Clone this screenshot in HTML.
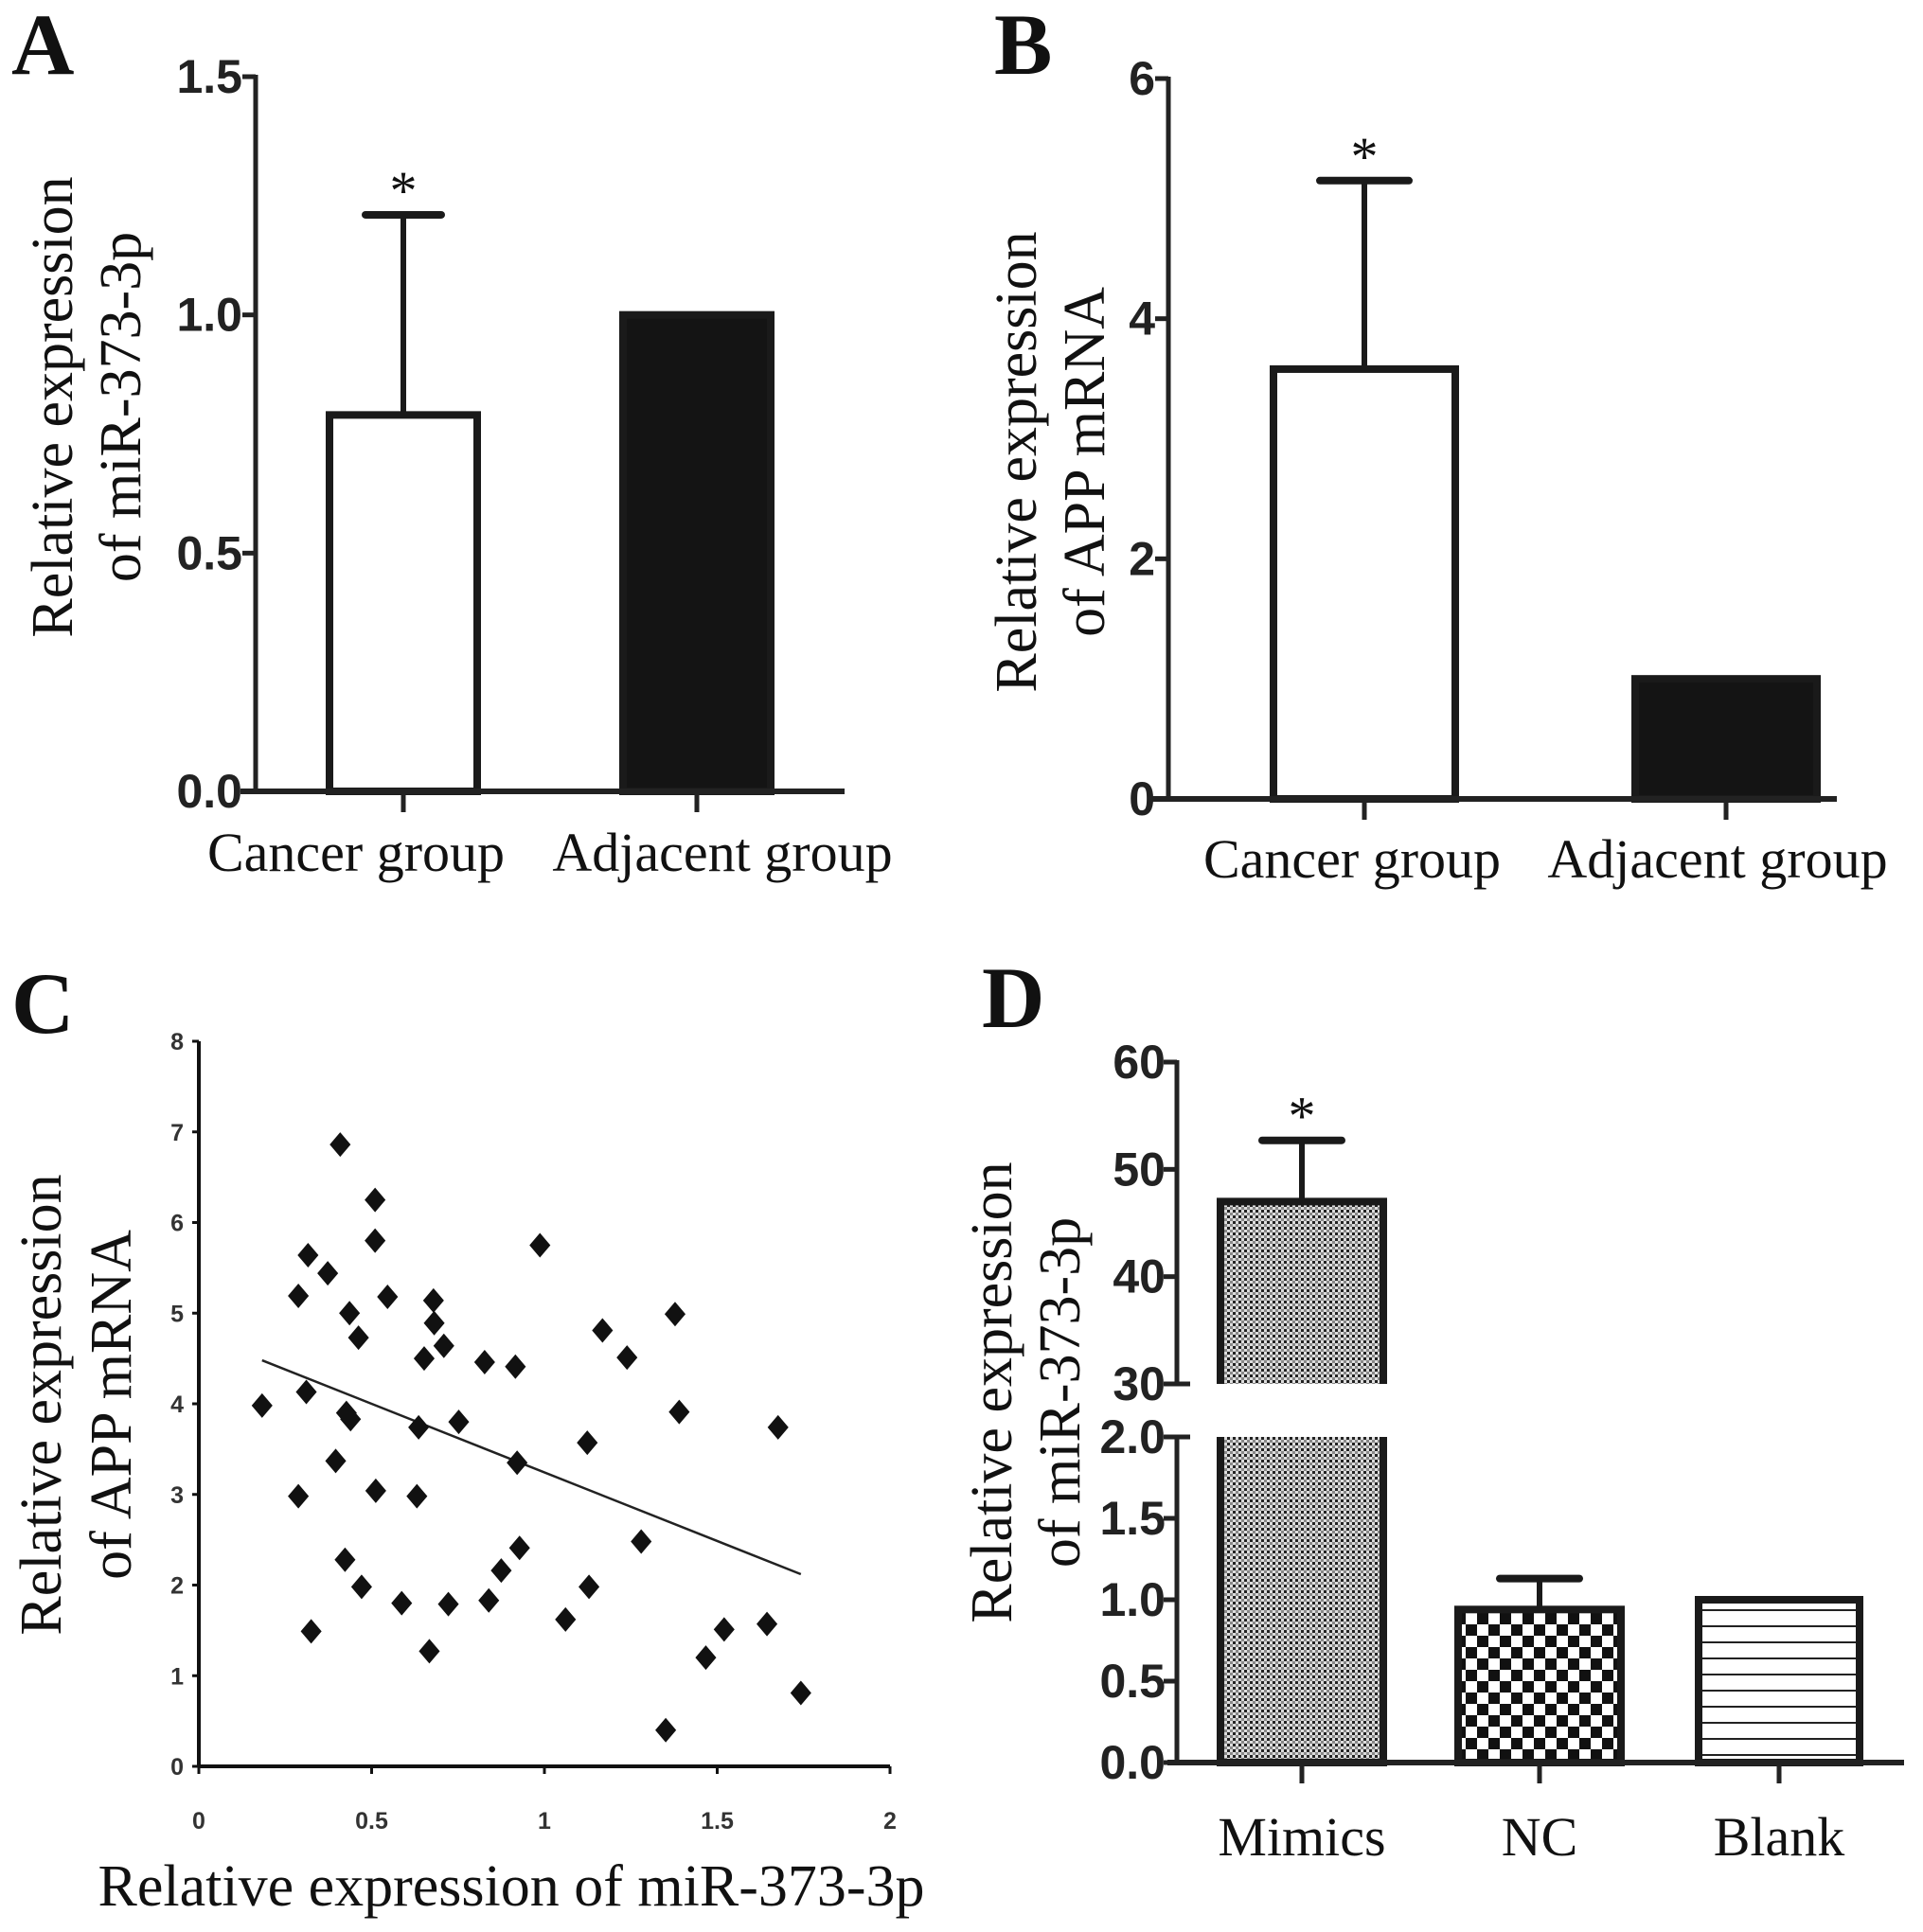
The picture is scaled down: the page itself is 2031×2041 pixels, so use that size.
<!DOCTYPE html>
<html><head><meta charset="utf-8"><style>
html,body{margin:0;padding:0;background:#fff}
svg{display:block}
.tk{font-family:"Liberation Sans Narrow","Liberation Sans",sans-serif;font-weight:bold;font-size:50px;fill:#222}
.tks{font-family:"Liberation Sans",sans-serif;font-weight:bold;font-size:25px;fill:#333}
.lab{font-family:"Liberation Serif",serif;font-size:58px;fill:#111}
.ttl{font-family:"Liberation Serif",serif;font-size:62px;fill:#111}
.pl{font-family:"Liberation Serif",serif;font-weight:bold;font-size:92px;fill:#111}
</style></head><body>
<svg id="fig" width="2031" height="2041" viewBox="0 0 2031 2041" xmlns="http://www.w3.org/2000/svg">
<defs>
<pattern id="dots" width="6" height="6" patternUnits="userSpaceOnUse"><rect width="6" height="6" fill="#ddd"/><rect x="0" y="0" width="3" height="3" fill="#222"/><rect x="3" y="3" width="3" height="3" fill="#888"/></pattern>
<pattern id="check" width="24" height="24" patternUnits="userSpaceOnUse"><rect width="24" height="24" fill="#fff"/><rect width="12" height="12" fill="#111"/><rect x="12" y="12" width="12" height="12" fill="#111"/></pattern>
<pattern id="hlines" width="10" height="17" patternUnits="userSpaceOnUse"><rect width="10" height="17" fill="#fff"/><rect y="0" width="10" height="2" fill="#222"/></pattern>
</defs>
</svg>
<script>
// Panel A data
const aCats=["Cancer group","Adjacent group"];
const aVals=[0.79,1.0];
const aErr=[1.21,null];
const aTicks=[0,0.5,1.0,1.5];
// Panel B data
const bCats=["Cancer group","Adjacent group"];
const bVals=[3.58,1.0];
const bErr=[5.15,null];
const bTicks=[0,2,4,6];
// Panel C data
const cX=[0.183,0.288,0.288,0.316,0.311,0.325,0.373,0.396,0.409,0.436,0.427,0.439,0.423,0.462,0.471,0.510,0.510,0.512,0.546,0.587,0.631,0.636,0.652,0.667,0.679,0.681,0.709,0.722,0.752,0.827,0.839,0.875,0.916,0.921,0.928,0.987,1.061,1.124,1.129,1.168,1.239,1.280,1.351,1.378,1.390,1.467,1.520,1.644,1.676,1.742];
const cY=[3.98,5.19,2.98,5.64,4.13,1.49,5.44,3.37,6.86,5.0,3.9,3.83,2.28,4.73,1.98,6.25,5.8,3.04,5.18,1.8,2.98,3.74,4.5,1.27,5.14,4.89,4.64,1.79,3.80,4.46,1.83,2.16,4.41,3.35,2.41,5.75,1.62,3.57,1.98,4.81,4.51,2.48,0.40,4.99,3.91,1.20,1.51,1.57,3.74,0.81];
const cTrendX=[0.183,1.742];
const cTrendY=[4.48,2.12];
const cXTicks=[0,0.5,1,1.5,2];
const cYTicks=[0,1,2,3,4,5,6,7,8];
// Panel D data
const dCats=["Mimics","NC","Blank"];
const dVals=[47,0.94,1.0];
const dErr=[52.7,1.13,null];
const dTicksLow=[0,0.5,1.0,1.5,2.0];
const dTicksHigh=[30,40,50,60];

const svg=document.getElementById('fig');
const NS="http://www.w3.org/2000/svg";
function el(tag,attrs,parent){const e=document.createElementNS(NS,tag);for(const k in attrs)e.setAttribute(k,attrs[k]);(parent||svg).appendChild(e);return e;}
function txt(x,y,s,cls,anchor,rot){const t=el('text',{x:x,y:y,class:cls,'text-anchor':anchor||'middle'});if(rot)t.setAttribute('transform',`rotate(-90 ${x} ${y})`);t.textContent=s;return t;}

[["A",12,78],["B",1050,78],["C",12,1091],["D",1037,1085]].forEach(p=>{const t=txt(p[1],p[2],p[0],'pl','start');

});

function barPanel(cfg){
  const g=el('g',{});
  
  
  const y=v=>cfg.y0+(v-cfg.t0)/(cfg.t1-cfg.t0)*(cfg.y1-cfg.y0);
  cfg.ticks.forEach(t=>{el('line',{x1:cfg.ax-14,x2:cfg.ax,y1:y(t),y2:y(t),stroke:'#222','stroke-width':5},g);
    const l=txt(cfg.ax-14,y(t)+17,cfg.fmt(t),'tk','end');g.appendChild(l);
    
    });
  el('line',{x1:cfg.ax,x2:cfg.ax,y1:y(cfg.t1)-2,y2:y(cfg.t0),stroke:'#222','stroke-width':5},g);
  cfg.vals.forEach((v,i)=>{
    const cx=cfg.cx[i],w=cfg.w;
    const r=el('rect',{x:cx-w/2,y:y(v),width:w,height:y(cfg.t0)-y(v),fill:cfg.fill[i],stroke:'#1a1a1a','stroke-width':8},g);
    
    
    if(cfg.err[i]!=null){el('line',{x1:cx,x2:cx,y1:y(v),y2:y(cfg.err[i]),stroke:'#1a1a1a','stroke-width':6},g);
      el('line',{x1:cx-cfg.cap,x2:cx+cfg.cap,y1:y(cfg.err[i]),y2:y(cfg.err[i]),stroke:'#1a1a1a','stroke-width':8,'stroke-linecap':'round'},g);
      const s=txt(cx,y(cfg.err[i])-6,'*','lab');g.appendChild(s);
      
      }
    el('line',{x1:cx,x2:cx,y1:y(cfg.t0),y2:y(cfg.t0)+22,stroke:'#222','stroke-width':5},g);
    const l=txt(cfg.lx[i],cfg.ly,cfg.cats[i],'lab');g.appendChild(l);
    
    
  });
  el('line',{x1:cfg.xa0,x2:cfg.xa1,y1:y(cfg.t0),y2:y(cfg.t0),stroke:'#222','stroke-width':6},g);
  cfg.title.forEach((s,i)=>{const t=txt(cfg.tx[i],cfg.ty,s,'ttl','middle',true);g.appendChild(t);
    
    });
}
barPanel({name:'panel-a-chart',cats:aCats,vals:aVals,err:aErr,ticks:aTicks,t0:0,t1:1.5,y0:836,y1:81,ax:270,xa0:254,xa1:892,
  cx:[426,736],lx:[376,763],w:156,cap:40,fill:['#fff','#141414'],fmt:t=>t.toFixed(1),ly:920,
  title:['Relative expression','of miR-373-3p'],tx:[76,148],ty:430});
barPanel({name:'panel-b-chart',cats:bCats,vals:bVals,err:bErr,ticks:bTicks,t0:0,t1:6,y0:844,y1:83,ax:1234,xa0:1217,xa1:1940,
  cx:[1441,1823],lx:[1428,1814],w:192,cap:47,fill:['#fff','#141414'],fmt:t=>String(t),ly:927,
  title:['Relative expression','of APP mRNA'],tx:[1094,1166],ty:488});

// Panel C scatter
(function(){
  const g=el('g',{});
  
  
  const X=v=>210+v/2*730, Y=v=>1866-v/8*766;
  el('line',{x1:X(0),x2:X(0),y1:Y(8),y2:Y(0),stroke:'#111','stroke-width':4},g);
  el('line',{x1:X(0),x2:X(2),y1:Y(0),y2:Y(0),stroke:'#111','stroke-width':4},g);
  cYTicks.forEach(t=>{el('line',{x1:X(0)-7,x2:X(0),y1:Y(t),y2:Y(t),stroke:'#111','stroke-width':3},g);
    const l=txt(X(0)-16,Y(t)+9,String(t),'tks','end');g.appendChild(l);
    
    });
  cXTicks.forEach(t=>{el('line',{x1:X(t),x2:X(t),y1:Y(0),y2:Y(0)+8,stroke:'#111','stroke-width':3},g);
    const l=txt(X(t),1932,String(t),'tks');g.appendChild(l);
    
    });
  const tl=el('line',{x1:X(cTrendX[0]),y1:Y(cTrendY[0]),x2:X(cTrendX[1]),y2:Y(cTrendY[1]),stroke:'#222','stroke-width':2.5},g);
  
  
  cX.forEach((x,i)=>{const px=X(x),py=Y(cY[i]),r=13;
    const p=el('polygon',{points:`${px},${py-r} ${px+r*0.85},${py} ${px},${py+r} ${px-r*0.85},${py}`,fill:'#111'},g);
    
    });
  const xt=txt(540,2013,'Relative expression of miR-373-3p','ttl');g.appendChild(xt);
  
  
  [['Relative expression',64],['of APP mRNA',138]].forEach(a=>{const t=txt(a[1],1484,a[0],'ttl','middle',true);g.appendChild(t);
    
    });
})();

// Panel D broken-axis bars
(function(){
  const g=el('g',{});
  
  
  const ax=1243;
  const yL=v=>1862-v/2*(1862-1518), yH=v=>1462-(v-30)/30*(1462-1122);
  const y=v=>v>2?yH(Math.max(v,30)):yL(v);
  el('line',{x1:ax,x2:ax,y1:1120,y2:1462,stroke:'#222','stroke-width':5},g);
  el('line',{x1:ax,x2:ax,y1:1518,y2:1862,stroke:'#222','stroke-width':5},g);
  dTicksHigh.forEach(t=>{const ex=t==30?14:0;el('line',{x1:ax-14,x2:ax+ex,y1:yH(t),y2:yH(t),stroke:'#222','stroke-width':5},g);
    const l=txt(ax-12,yH(t)+17,String(t),'tk','end');g.appendChild(l);
    
    });
  dTicksLow.forEach(t=>{const ex=t==2?14:0;el('line',{x1:ax-14,x2:ax+ex,y1:yL(t),y2:yL(t),stroke:'#222','stroke-width':5},g);
    const l=txt(ax-12,yL(t)+17,t.toFixed(1),'tk','end');g.appendChild(l);
    
    });
  const cx=[1375,1626,1879],w=[172,172,170],fills=['url(#dots)','url(#check)','url(#hlines)'];
  dVals.forEach((v,i)=>{
    const x0=cx[i]-w[i]/2;
    if(v>2){
      const r1=el('rect',{x:x0,y:yH(v),width:w[i],height:yH(30)-yH(v),fill:fills[i]},g);
      
      
      el('path',{d:`M${x0},${yH(30)} V${yH(v)} H${x0+w[i]} V${yH(30)}`,fill:'none',stroke:'#1a1a1a','stroke-width':8},g);
      const r2=el('rect',{x:x0,y:yL(2),width:w[i],height:yL(0)-yL(2),fill:fills[i]},g);
      
      
      el('path',{d:`M${x0},${yL(2)} V${yL(0)} H${x0+w[i]} V${yL(2)}`,fill:'none',stroke:'#1a1a1a','stroke-width':8},g);
    } else {
      const r=el('rect',{x:x0,y:yL(v),width:w[i],height:yL(0)-yL(v),fill:fills[i],stroke:'#1a1a1a','stroke-width':8},g);
      
      
    }
    if(dErr[i]!=null){const ye=y(dErr[i]);
      el('line',{x1:cx[i],x2:cx[i],y1:y(v),y2:ye,stroke:'#1a1a1a','stroke-width':6},g);
      el('line',{x1:cx[i]-42,x2:cx[i]+42,y1:ye,y2:ye,stroke:'#1a1a1a','stroke-width':8,'stroke-linecap':'round'},g);
      if(i==0){const s=txt(cx[i],ye-6,'*','lab');g.appendChild(s);
        
        }}
    el('line',{x1:cx[i],x2:cx[i],y1:1862,y2:1884,stroke:'#222','stroke-width':5},g);
    const l=txt(cx[i],1960,dCats[i],'lab');g.appendChild(l);
    
    
  });
  el('line',{x1:1233,x2:2011,y1:1862,y2:1862,stroke:'#222','stroke-width':6},g);
  [['Relative expression',1068],['of miR-373-3p',1140]].forEach(a=>{const t=txt(a[1],1471,a[0],'ttl','middle',true);g.appendChild(t);
    
    });
})();
</script>
</body></html>
